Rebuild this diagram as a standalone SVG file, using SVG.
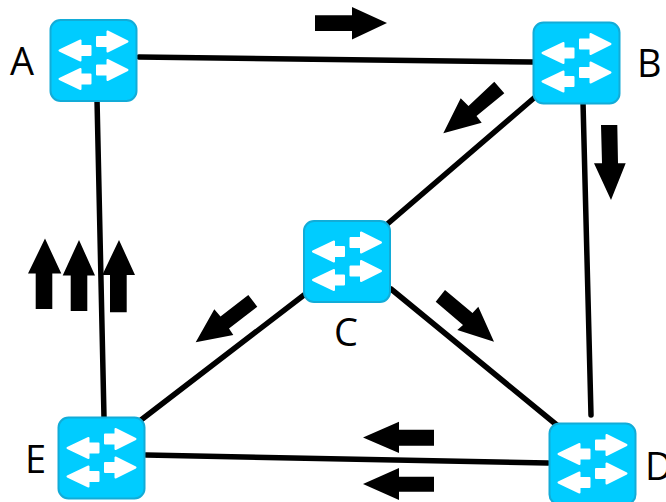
<svg xmlns="http://www.w3.org/2000/svg" xmlns:xlink="http://www.w3.org/1999/xlink" width="666" height="502" viewBox="0 0 666 502">
<style>
.body{fill:#00ccff;stroke:#12acd8;stroke-width:2}
.w{fill:#fff;stroke:#fff;stroke-width:2;stroke-linejoin:round}
.lnk{stroke:#000;stroke-width:5.500;stroke-linecap:round;fill:none}
.lbl{font-family:"Open Sans","Noto Sans",sans-serif;font-size:38px;fill:#000}
.flow{fill:#000}
</style>
<defs>
<g id="sw">
<rect class="body" x="0.500" y="0.500" width="86" height="81" rx="10"/>
<path class="w" d="M77.500 22L57.500 12V17.500H47V26.500H57.500V32Z"/>
<path class="w" d="M77.500 50.500L57.500 40.500V46H47V55H57.500V60.500Z"/>
<path class="w" d="M9.500 31L30.500 21V26.500H40.500V35.500H30.500V41Z"/>
<path class="w" d="M9.500 59.500L30.500 49.500V55H40.500V64H30.500V69.500Z"/>
</g>
</defs>
<g id="connectors">
<path class="lnk" d="M139 57L533 62"/>
<path class="lnk" d="M97 99L104 417"/>
<path class="lnk" d="M583 102L591 415"/>
<path class="lnk" d="M534 98L385 226"/>
<path class="lnk" d="M304 295L141 420"/>
<path class="lnk" d="M391 289L558 426"/>
<path class="lnk" d="M146 455L548 463"/>
</g>
<g id="flows">
<polygon class="flow" points="315,15.300 352,15.300 352,7 387,23 352,39.500 352,31 315,31"/>
<polygon class="flow" points="443.300,133.300 460.700,98.300 468.500,106 494.300,81.700 504.300,93.300 476.500,116 481.700,122.700"/>
<polygon class="flow" points="601,125 617.300,125 618,163.300 625.700,163.300 611,200 594,163.300 602,163.300"/>
<polygon class="flow" points="494,341.700 478.300,306.700 472.500,313 445,290 435.700,301.700 463,325 457.300,330"/>
<polygon class="flow" points="195.700,342.300 214.300,309.300 220.500,316.500 248.300,295 257.300,306.700 229,328.500 233.300,335"/>
<polygon class="flow" points="45,238.500 61.300,273.500 52.300,273.500 52.300,309 35.700,309 35.700,273.500 28,273.500"/>
<polygon class="flow" points="79,240 95,275.500 87.300,275.500 87.300,311 70.700,311 70.700,275.500 62.700,275.500"/>
<polygon class="flow" points="119,240 135,275 126.700,275 126.700,312.300 110,312.300 110,275 102.300,275"/>
<polygon class="flow" points="363,437.500 399,421.700 399,429.700 434,429.700 434,445.700 399,445.700 399,453"/>
<polygon class="flow" points="363,484 399,468 399,476.700 434,476.700 434,491.700 399,491.700 399,500"/>
</g>
<g id="node-A"><use xlink:href="#sw" x="50" y="19.500"/><text class="lbl" x="10" y="75">A</text></g>
<g id="node-B"><use xlink:href="#sw" x="533" y="22"/><text class="lbl" x="637" y="77">B</text></g>
<g id="node-C"><use xlink:href="#sw" x="303.500" y="220.500"/><text class="lbl" x="334" y="346">C</text></g>
<g id="node-D"><use xlink:href="#sw" x="549" y="423"/><text class="lbl" x="645" y="480">D</text></g>
<g id="node-E"><use xlink:href="#sw" x="58" y="417"/><text class="lbl" x="25" y="473">E</text></g>
</svg>
